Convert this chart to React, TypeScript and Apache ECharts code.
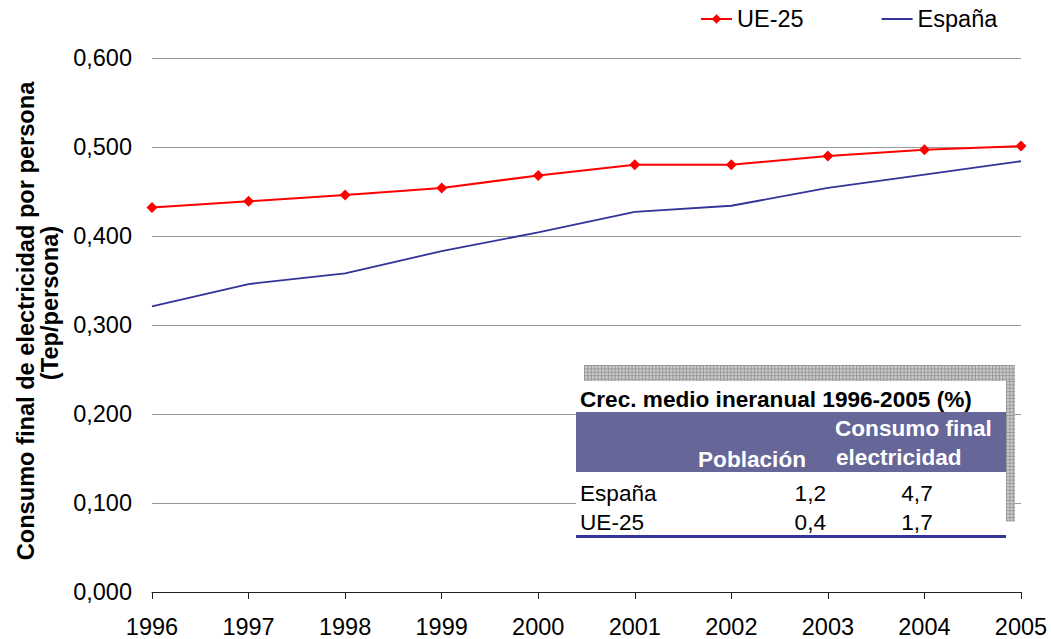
import React, { useEffect, useRef } from "react";
import * as echarts from "echarts";

const years = ["1996", "1997", "1998", "1999", "2000", "2001", "2002", "2003", "2004", "2005"];
const ue25 = [0.432, 0.439, 0.446, 0.454, 0.468, 0.48, 0.48, 0.49, 0.497, 0.501];
const espana = [0.321, 0.346, 0.358, 0.383, 0.404, 0.427, 0.434, 0.454, 0.469, 0.484];

const tableTitle = "Crec. medio ineranual 1996-2005 (%)";
const headerPoblacion = "Población";
const headerConsumo = ["Consumo final", "electricidad"];
const rowNames = ["España", "UE-25"];
const poblacion = ["1,2", "0,4"];
const consumo = ["4,7", "1,7"];

const yTitle1 = "Consumo final de electricidad por persona";
const yTitle2 = "(Tep/persona)";

const FONT = "'Liberation Sans', Arial, sans-serif";
const TF = 22.6;

function buildHatch() {
  const els: any[] = [];
  const Z = 50;
  const col = "#999999";
  els.push({ type: "rect", z: Z, shape: { x: 584, y: 365, width: 431, height: 16 }, style: { fill: "#cccccc" } });
  els.push({ type: "rect", z: Z, shape: { x: 1006, y: 381, width: 9, height: 140 }, style: { fill: "#cccccc" } });
  for (let x = 584.5; x <= 1015; x += 3.4) {
    els.push({ type: "line", z: Z + 1, shape: { x1: x, y1: 365, x2: x, y2: 381 }, style: { stroke: col, lineWidth: 1 } });
  }
  for (let y = 365.5; y <= 381; y += 3.4) {
    els.push({ type: "line", z: Z + 1, shape: { x1: 584, y1: y, x2: 1015, y2: y }, style: { stroke: col, lineWidth: 1 } });
  }
  for (let x = 1006.5; x <= 1015; x += 3.4) {
    els.push({ type: "line", z: Z + 1, shape: { x1: x, y1: 381, x2: x, y2: 521 }, style: { stroke: col, lineWidth: 1 } });
  }
  for (let y = 381.5; y <= 521; y += 3.4) {
    els.push({ type: "line", z: Z + 1, shape: { x1: 1006, y1: y, x2: 1015, y2: y }, style: { stroke: col, lineWidth: 1 } });
  }
  return els;
}

function buildTable() {
  const Z = 60;
  const els: any[] = [];
  els.push({ type: "rect", z: Z, shape: { x: 576, y: 381, width: 430, height: 158 }, style: { fill: "#ffffff" } });
  els.push({
    type: "text", z: Z + 2, x: 580, y: 399,
    style: { text: tableTitle, font: `bold ${TF}px ${FONT}`, fill: "#000", textAlign: "left", textVerticalAlign: "middle" },
  });
  els.push({ type: "rect", z: Z + 1, shape: { x: 576, y: 412, width: 430, height: 60 }, style: { fill: "#666699" } });
  els.push({
    type: "text", z: Z + 2, x: 835, y: 428,
    style: { text: headerConsumo[0], font: `bold ${TF}px ${FONT}`, fill: "#fff", textAlign: "left", textVerticalAlign: "middle" },
  });
  els.push({
    type: "text", z: Z + 2, x: 836, y: 457,
    style: { text: headerConsumo[1], font: `bold ${TF}px ${FONT}`, fill: "#fff", textAlign: "left", textVerticalAlign: "middle" },
  });
  els.push({
    type: "text", z: Z + 2, x: 806, y: 459,
    style: { text: headerPoblacion, font: `bold ${TF}px ${FONT}`, fill: "#fff", textAlign: "right", textVerticalAlign: "middle" },
  });
  const rowY = [493, 522];
  rowNames.forEach((n, i) => {
    els.push({
      type: "text", z: Z + 2, x: 580, y: rowY[i],
      style: { text: n, font: `${TF}px ${FONT}`, fill: "#000", textAlign: "left", textVerticalAlign: "middle" },
    });
    els.push({
      type: "text", z: Z + 2, x: 826, y: rowY[i],
      style: { text: poblacion[i], font: `${TF}px ${FONT}`, fill: "#000", textAlign: "right", textVerticalAlign: "middle" },
    });
    els.push({
      type: "text", z: Z + 2, x: 917, y: rowY[i],
      style: { text: consumo[i], font: `${TF}px ${FONT}`, fill: "#000", textAlign: "center", textVerticalAlign: "middle" },
    });
  });
  els.push({ type: "line", z: Z + 2, shape: { x1: 576, y1: 536.5, x2: 1006, y2: 536.5 }, style: { stroke: "#333399", lineWidth: 3 } });
  return els;
}

export default function App() {
  const ref = useRef<HTMLDivElement>(null);
  useEffect(() => {
    document.body.style.margin = "0";
    const chart = echarts.init(ref.current!, undefined, { renderer: "svg" });
    chart.setOption({
      animation: false,
      backgroundColor: "#ffffff",
      textStyle: { fontFamily: FONT },
      grid: { left: 152, right: 30, top: 58, bottom: 46, containLabel: false },
      legend: {
        left: 695,
        top: 2,
        itemWidth: 31,
        itemHeight: 12,
        itemGap: 77,
        textStyle: { fontSize: 23.5, color: "#000", fontFamily: FONT },
        data: [{ name: "UE-25" }, { name: "España", itemStyle: { opacity: 0 } }],
      },
      xAxis: {
        type: "category",
        data: years,
        boundaryGap: false,
        axisLine: { show: true, lineStyle: { color: "#222", width: 1 } },
        axisTick: { show: true, length: 7, lineStyle: { color: "#222" } },
        axisLabel: { fontSize: 23.5, color: "#000", margin: 23, fontFamily: FONT },
        splitLine: { show: false },
      },
      yAxis: {
        type: "value",
        min: 0,
        max: 0.6,
        interval: 0.1,
        axisLine: { show: false },
        axisTick: { show: false },
        axisLabel: {
          fontSize: 23.5,
          color: "#000",
          margin: 20,
          fontFamily: FONT,
          formatter: (v: number) => v.toFixed(3).replace(".", ","),
        },
        splitLine: { show: true, lineStyle: { color: "#999999", width: 1 } },
      },
      series: [
        {
          name: "UE-25",
          type: "line",
          data: ue25,
          symbol: "diamond",
          symbolSize: 11,
          itemStyle: { color: "#ff0000" },
          lineStyle: { color: "#ff0000", width: 2 },
          z: 3,
        },
        {
          name: "España",
          type: "line",
          data: espana,
          symbol: "circle",
          showSymbol: false,
          itemStyle: { color: "#333399" },
          lineStyle: { color: "#333399", width: 1.8 },
          z: 2,
        },
      ],
      graphic: [
        {
          type: "text",
          z: 10,
          x: 26,
          y: 321,
          rotation: Math.PI / 2,
          style: { text: yTitle1, font: `bold 23.6px ${FONT}`, fill: "#000", textAlign: "center", textVerticalAlign: "middle" },
        },
        {
          type: "text",
          z: 10,
          x: 50,
          y: 303,
          rotation: Math.PI / 2,
          style: { text: yTitle2, font: `bold 23.6px ${FONT}`, fill: "#000", textAlign: "center", textVerticalAlign: "middle" },
        },
        ...buildHatch(),
        ...buildTable(),
      ],
    });
    return () => chart.dispose();
  }, []);
  return <div ref={ref} style={{ width: 1051, height: 639 }} />;
}
